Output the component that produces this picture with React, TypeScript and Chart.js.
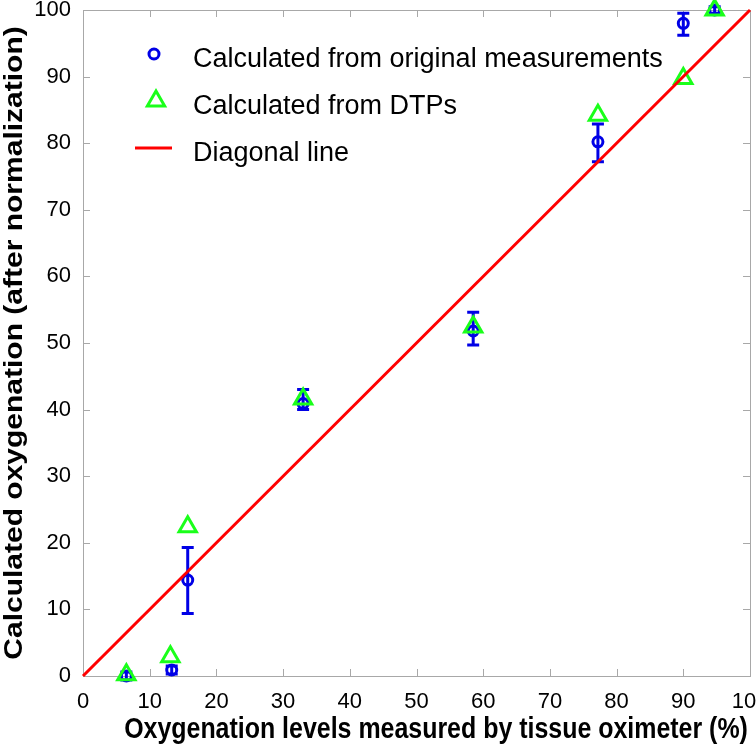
import React, { useEffect, useRef } from 'react';
import { Chart, registerables } from 'chart.js';
Chart.register(...registerables);

const X_TITLE = 'Oxygenation levels measured by tissue oximeter (%)';
const Y_TITLE = 'Calculated oxygenation (after normalization)';
const LABEL_ORIG = 'Calculated from original measurements';
const LABEL_DTP = 'Calculated from DTPs';
const LABEL_DIAG = 'Diagonal line';

const xOriginal = [6.5, 13.3, 15.7, 33.0, 58.5, 77.2, 90.0, 94.7];
const yOriginal = [0.0, 0.9, 14.4, 40.9, 51.8, 80.2, 98.0, 100.0];
const errLow = [-0.6, 0.3, 9.4, 40.0, 49.7, 77.2, 96.2, 99.5];
const errHigh = [0.6, 1.5, 19.3, 43.0, 54.6, 82.9, 99.5, 100.5];

const xDTP = [6.5, 13.1, 15.7, 33.0, 58.5, 77.2, 90.0, 94.7];
const yDTP = [0.2, 2.9, 22.4, 41.6, 52.4, 84.2, 89.7, 100.0];

const xDiag = [0, 100];
const yDiag = [0, 100];

const xTicks = [0, 10, 20, 30, 40, 50, 60, 70, 80, 90, 100];
const yTicks = [0, 10, 20, 30, 40, 50, 60, 70, 80, 90, 100];

const BLUE = '#0000e6';
const GREEN = '#1aff1a';
const RED = '#ff0000';
const AXIS_GRAY = '#a8a8a8';
const FONT = "'Liberation Sans', Arial, sans-serif";

const errorBarPlugin = {
  id: 'errorBars',
  beforeDatasetsDraw(chart: any) {
    const { ctx, scales } = chart;
    const xs = scales.x, ys = scales.y;
    ctx.save();
    ctx.strokeStyle = BLUE;
    ctx.lineWidth = 3;
    for (let i = 0; i < xOriginal.length; i++) {
      const px = xs.getPixelForValue(xOriginal[i]);
      const pLow = ys.getPixelForValue(errLow[i]);
      const pHigh = ys.getPixelForValue(errHigh[i]);
      ctx.beginPath();
      ctx.moveTo(px, pLow);
      ctx.lineTo(px, pHigh);
      ctx.moveTo(px - 6, pLow);
      ctx.lineTo(px + 6, pLow);
      ctx.moveTo(px - 6, pHigh);
      ctx.lineTo(px + 6, pHigh);
      ctx.stroke();
    }
    ctx.restore();
  },
};

const framePlugin = {
  id: 'frame',
  beforeDatasetsDraw(chart: any) {
    const { ctx, chartArea: a, scales } = chart;
    ctx.save();
    ctx.strokeStyle = AXIS_GRAY;
    ctx.lineWidth = 1;
    ctx.strokeRect(a.left + 0.5, a.top + 0.5, a.right - a.left, a.bottom - a.top);
    ctx.beginPath();
    const len = 7;
    for (const v of xTicks) {
      const px = Math.round(scales.x.getPixelForValue(v)) + 0.5;
      ctx.moveTo(px, a.bottom);
      ctx.lineTo(px, a.bottom - len);
      ctx.moveTo(px, a.top);
      ctx.lineTo(px, a.top + len);
    }
    for (const v of yTicks) {
      const py = Math.round(scales.y.getPixelForValue(v)) + 0.5;
      ctx.moveTo(a.left, py);
      ctx.lineTo(a.left + len, py);
      ctx.moveTo(a.right, py);
      ctx.lineTo(a.right - len, py);
    }
    ctx.stroke();
    ctx.restore();
  },
};

const titlesLegendPlugin = {
  id: 'titlesLegend',
  afterDraw(chart: any) {
    const { ctx } = chart;
    ctx.save();
    ctx.fillStyle = '#000';
    ctx.textAlign = 'center';
    ctx.textBaseline = 'middle';
    // x title (slightly condensed, as in the reference)
    ctx.save();
    ctx.translate(436, 730);
    ctx.scale(0.86, 1);
    ctx.font = `bold 29px ${FONT}`;
    ctx.fillText(X_TITLE, 0, 0);
    ctx.restore();
    // y title
    ctx.save();
    ctx.translate(15, 343);
    ctx.rotate(-Math.PI / 2);
    ctx.scale(1, 0.86);
    ctx.font = `bold 30px ${FONT}`;
    ctx.fillText(Y_TITLE, 0, 0);
    ctx.restore();

    // legend
    ctx.font = `27px ${FONT}`;
    ctx.textAlign = 'left';
    ctx.textBaseline = 'middle';
    const textX = 193;
    const rows = [
      { label: chart.data.datasets[0].label, y: 57 },
      { label: chart.data.datasets[1].label, y: 104 },
      { label: chart.data.datasets[2].label, y: 151 },
    ];
    ctx.strokeStyle = BLUE;
    ctx.lineWidth = 3;
    ctx.beginPath();
    ctx.arc(154, rows[0].y - 3, 5, 0, Math.PI * 2);
    ctx.stroke();
    ctx.strokeStyle = GREEN;
    ctx.beginPath();
    const r = 10, cx = 156, cy = rows[1].y - 3;
    for (let k = 0; k < 3; k++) {
      const ang = (k * 2 * Math.PI) / 3;
      const x = cx + Math.sin(ang) * r;
      const y = cy - Math.cos(ang) * r;
      if (k === 0) ctx.moveTo(x, y); else ctx.lineTo(x, y);
    }
    ctx.closePath();
    ctx.stroke();
    ctx.strokeStyle = RED;
    ctx.beginPath();
    ctx.moveTo(135, rows[2].y - 3);
    ctx.lineTo(172, rows[2].y - 3);
    ctx.stroke();
    for (const row of rows) {
      ctx.fillText(row.label, textX, row.y + 3);
    }
    ctx.restore();
  },
};

export default function App() {
  const ref = useRef<HTMLCanvasElement | null>(null);
  useEffect(() => {
    if (!ref.current) return;
    const chart = new Chart(ref.current, {
      type: 'scatter',
      data: {
        datasets: [
          {
            label: LABEL_ORIG,
            data: xOriginal.map((x, i) => ({ x, y: yOriginal[i] })),
            pointStyle: 'circle',
            pointRadius: 5,
            pointBorderWidth: 3,
            borderColor: BLUE,
            backgroundColor: 'rgba(0,0,0,0)',
            showLine: false,
            clip: false,
            order: 3,
          },
          {
            label: LABEL_DTP,
            data: xDTP.map((x, i) => ({ x, y: yDTP[i] })),
            pointStyle: 'triangle',
            pointRadius: 10,
            pointBorderWidth: 3,
            borderColor: GREEN,
            backgroundColor: 'rgba(0,0,0,0)',
            showLine: false,
            clip: false,
            order: 2,
          },
          {
            label: LABEL_DIAG,
            data: xDiag.map((x, i) => ({ x, y: yDiag[i] })),
            showLine: true,
            borderColor: RED,
            borderWidth: 3,
            pointRadius: 0,
            clip: false,
            order: 1,
          },
        ],
      },
      options: {
        animation: false,
        responsive: false,
        layout: { autoPadding: false, padding: { left: 0, top: 10, right: 6, bottom: 0 } },
        plugins: { legend: { display: false }, tooltip: { enabled: false } },
        scales: {
          x: {
            type: 'linear',
            min: 0,
            max: 100,
            afterBuildTicks: (s: any) => { s.ticks = xTicks.map((v) => ({ value: v })); },
            afterFit: (s: any) => { s.height = 71; s.paddingLeft = 0; s.paddingRight = 0; },
            ticks: { font: { family: FONT, size: 22 }, color: '#000', padding: 13, maxRotation: 0, autoSkip: false },
            grid: { display: false, drawTicks: false },
            border: { display: false },
          },
          y: {
            type: 'linear',
            min: 0,
            max: 100,
            afterBuildTicks: (s: any) => { s.ticks = yTicks.map((v) => ({ value: v })); },
            afterFit: (s: any) => { s.width = 83; s.paddingTop = 0; s.paddingBottom = 0; },
            ticks: { font: { family: FONT, size: 22 }, color: '#000', padding: 12, autoSkip: false },
            grid: { display: false, drawTicks: false },
            border: { display: false },
          },
        },
      },
      plugins: [framePlugin, errorBarPlugin, titlesLegendPlugin],
    });
    return () => chart.destroy();
  }, []);
  return (
    <canvas
      ref={ref}
      width={756}
      height={747}
      style={{ position: 'fixed', left: 0, top: 0, width: 756, height: 747, background: '#fff' }}
    />
  );
}
